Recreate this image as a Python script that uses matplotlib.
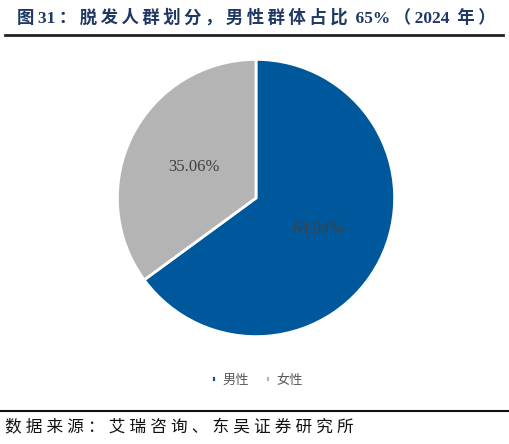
import matplotlib.pyplot as plt
from matplotlib.lines import Line2D

# 数据
labels = ['男性', '女性']
shares = [64.94, 35.06]
colors = ['#00589C', '#B4B4B4']

title = '图31：脱发人群划分，男性群体占比 65%（2024 年）'
source = '数据来源：艾瑞咨询、东吴证券研究所'

W, H = 509, 444
fig = plt.figure(figsize=(W / 100, H / 100), dpi=100)


def spaced(s, sp):
    # 原图中文字距较宽，在中文字符旁插入窄空格
    out = s[0]
    for a, b in zip(s, s[1:]):
        if ord(a) > 127 or ord(b) > 127:
            out += sp
        out += b
    return out


# 标题
fig.text(17 / W, 1 - 18 / H, spaced(title, '\u2009'),
         family=['Liberation Serif', 'Noto Sans CJK SC', 'DejaVu Sans'],
         fontsize=12.5, fontweight='bold', color='#1F3864', va='center', ha='left')
fig.add_artist(Line2D([5 / W, 503 / W], [1 - 35 / H, 1 - 35 / H], color='#222222', lw=2))

# 饼图
ax = fig.add_axes([(256 - 140) / W, (444 - 338) / H, 280 / W, 280 / H])
wedges, _, autotexts = ax.pie(shares, colors=colors, startangle=90, counterclock=False,
                              autopct='%.2f%%', pctdistance=0.5,
                              wedgeprops=dict(edgecolor='white', linewidth=2),
                              textprops=dict(family='Liberation Serif', fontsize=12,
                                             color='#404040'))
ax.set_xlim(-1.01, 1.01)
ax.set_ylim(-1.01, 1.01)
ax.set_aspect('equal')
ax.axis('off')

# 图例
fig.legend(wedges, labels, loc='center', bbox_to_anchor=(257 / W, 1 - 380 / H), ncol=2,
           frameon=False, handlelength=0.4, handleheight=0.4, handletextpad=0.5,
           columnspacing=1.2, prop=dict(family='Noto Sans CJK SC', size=9.5),
           labelcolor='#595959')

# 底部
fig.add_artist(Line2D([0, 1], [1 - 411 / H, 1 - 411 / H], color='#111111', lw=1.5))
fig.text(5 / W, 1 - 428 / H, spaced(source, '\u2005'), family=['Noto Sans CJK SC', 'DejaVu Sans'],
         fontsize=12, color='#111111', va='center', ha='left')

fig.savefig('out.png', dpi=100)
